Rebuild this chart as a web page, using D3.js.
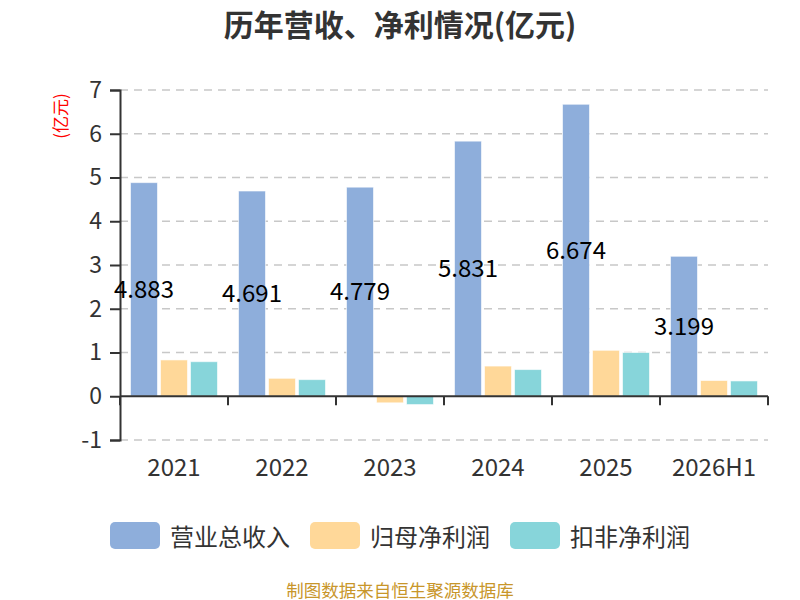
<!DOCTYPE html>
<html>
<head>
<meta charset="utf-8">
<script src="https://cdn.jsdelivr.net/npm/d3@7"></script>
<style>
  body { margin: 0; background: #fff; }
  text { font-family: "Noto Sans CJK SC", "Noto Sans", sans-serif; }
</style>
</head>
<body>
<div id="chart"></div>
<script>
// # Data.
const years = ['2021', '2022', '2023', '2024', '2025', '2026H1']
const seriesNames = ['营业总收入', '归母净利润', '扣非净利润']
const revenue = [4.883, 4.691, 4.779, 5.831, 6.674, 3.199]
const netProfit = [0.83, 0.41, -0.15, 0.69, 1.05, 0.36]
const deductedProfit = [0.79, 0.38, -0.19, 0.61, 1.0, 0.35]
const yTicks = [-1, 0, 1, 2, 3, 4, 5, 6, 7]
const colors = ['#8eaedb', '#ffd899', '#87d5da']

const W = 800, H = 600
const svg = d3.select('#chart').append('svg')
    .attr('width', W)
    .attr('height', H)

const series = [revenue, netProfit, deductedProfit]

// # Scales.
const x = d3.scaleBand().domain(years).range([120, 768])
const xs = d3.scaleBand().domain(seriesNames).range([-43.5, 43.5]).paddingInner(0.1)
const y = d3.scaleLinear().domain([-1, 7]).range([440, 90])

// # Title.
svg.append('text')
    .attr('x', 400).attr('y', 23)
    .attr('text-anchor', 'middle')
    .attr('dominant-baseline', 'central')
    .attr('font-size', 30)
    .attr('font-weight', 'bold')
    .attr('fill', '#333')
    .text('历年营收、净利情况(亿元)')

// # Unit label.
svg.append('text')
    .attr('transform', 'translate(59,116) rotate(-90)')
    .attr('text-anchor', 'middle')
    .attr('dominant-baseline', 'central')
    .attr('font-size', 17)
    .attr('fill', '#ff0000')
    .text('(亿元)')

// # Grid.
svg.append('g')
    .selectAll('line')
    .data(yTicks.filter(t => t !== 0))
    .enter().append('line')
    .attr('x1', 120).attr('x2', 768)
    .attr('y1', d => y(d)).attr('y2', d => y(d))
    .attr('stroke', '#c8c8c8')
    .attr('stroke-width', 1.5)
    .attr('stroke-dasharray', '8,6')

// # Y axis.
const yAxis = svg.append('g')
    .attr('transform', 'translate(120,0)')
    .call(d3.axisLeft(y).tickValues(yTicks).tickSize(10).tickPadding(8).tickFormat(d => String(d)))
yAxis.select('.domain').attr('stroke', '#333').attr('stroke-width', 2)
yAxis.selectAll('.tick line').attr('stroke', '#333').attr('stroke-width', 2)
yAxis.selectAll('.tick text')
    .attr('font-size', 23)
    .attr('fill', '#333')
    .attr('font-family', '"Noto Sans CJK SC", sans-serif')

// # Bars.
const groups = svg.append('g')
    .selectAll('g')
    .data(seriesNames)
    .enter().append('g')
    .attr('fill', (d, i) => colors[i])

groups.selectAll('rect')
    .data((name, i) => years.map((yr, j) => ({year: yr, name: name, value: series[i][j]})))
    .enter().append('rect')
    .attr('x', d => x(d.year) + x.bandwidth() / 2 + xs(d.name))
    .attr('width', xs.bandwidth())
    .attr('y', d => y(Math.max(0, d.value)))
    .attr('height', d => Math.abs(y(d.value) - y(0)))
    .attr('stroke', '#fff')
    .attr('stroke-opacity', 0.6)
    .attr('stroke-width', 1)

// # X axis at zero.
const xAxis = svg.append('g')
    .attr('transform', `translate(0,${y(0)})`)
xAxis.append('line')
    .attr('x1', 120).attr('x2', 768)
    .attr('stroke', '#333').attr('stroke-width', 2)
xAxis.selectAll('.tk')
    .data(years.map(d => x(d)).concat([768]))
    .enter().append('line')
    .attr('class', 'tk')
    .attr('x1', d => d).attr('x2', d => d)
    .attr('y1', 0).attr('y2', 9)
    .attr('stroke', '#333').attr('stroke-width', 2)

svg.append('g')
    .selectAll('text')
    .data(years)
    .enter().append('text')
    .attr('x', d => x(d) + x.bandwidth() / 2)
    .attr('y', 465)
    .attr('text-anchor', 'middle')
    .attr('dominant-baseline', 'central')
    .attr('font-size', 24)
    .attr('fill', '#333')
    .text(d => d)

// # Revenue value labels at bar middle.
svg.append('g')
    .selectAll('text')
    .data(years.map((yr, j) => ({year: yr, value: revenue[j]})))
    .enter().append('text')
    .attr('x', d => x(d.year) + x.bandwidth() / 2 + xs(seriesNames[0]) + xs.bandwidth() / 2)
    .attr('y', d => (y(d.value) + y(0)) / 2 - 2)
    .attr('text-anchor', 'middle')
    .attr('dominant-baseline', 'central')
    .attr('font-size', 24)
    .attr('fill', '#000')
    .text(d => d3.format('.3f')(d.value))

// # Legend.
const legendX = [110, 310, 510]
const legend = svg.append('g')
    .selectAll('g')
    .data(seriesNames)
    .enter().append('g')
    .attr('transform', (d, i) => `translate(${legendX[i]},522)`)
legend.append('rect')
    .attr('width', 50).attr('height', 27)
    .attr('rx', 5)
    .attr('fill', (d, i) => colors[i])
legend.append('text')
    .attr('x', 60).attr('y', 13.5)
    .attr('dominant-baseline', 'central')
    .attr('font-size', 24)
    .attr('fill', '#333')
    .text(d => d)

// # Source note.
svg.append('text')
    .attr('x', 400).attr('y', 589)
    .attr('text-anchor', 'middle')
    .attr('dominant-baseline', 'central')
    .attr('font-size', 17.5)
    .attr('fill', '#c8962a')
    .text('制图数据来自恒生聚源数据库')
</script>
</body>
</html>
